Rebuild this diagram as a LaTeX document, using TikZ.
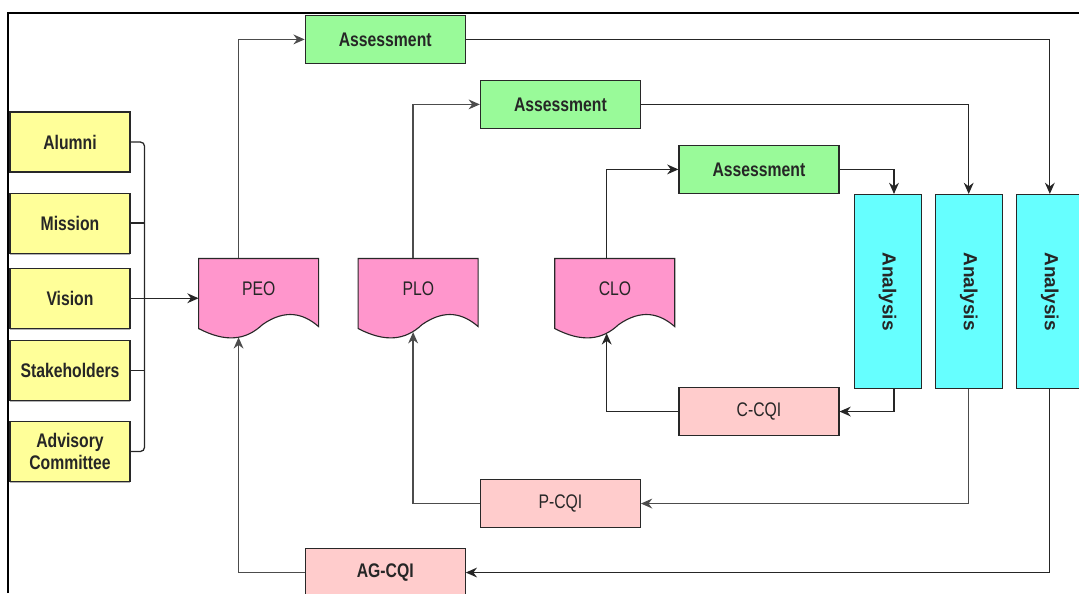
\documentclass[tikz,border=0pt]{standalone}
\usepackage{fontspec}
\setmainfont{Liberation Sans}
\newfontfamily\narrowsf[FakeStretch=0.8]{Liberation Sans}
\usepackage{graphicx}
\usetikzlibrary{arrows.meta,positioning,calc,backgrounds,shadows}
\definecolor{inputyellow}{RGB}{255,255,153}
\definecolor{assessgreen}{RGB}{153,250,153}
\definecolor{docpink}{RGB}{255,150,204}
\definecolor{analysiscyan}{RGB}{102,255,255}
\definecolor{cqipink}{RGB}{255,204,204}
\definecolor{edgegray}{RGB}{40,40,40}
\tikzset{
  basebox/.style={rectangle,draw=edgegray,line width=0.8pt,align=center,text=black!85,
    font=\narrowsf\fontsize{14}{16}\selectfont},
  inputnode/.style={basebox,fill=inputyellow,minimum width=3.0cm,minimum height=1.5cm,
    font=\narrowsf\bfseries\fontsize{14}{16}\selectfont,
    drop shadow={shadow xshift=0pt,shadow yshift=-1pt,opacity=0.6}},
  assessnode/.style={basebox,fill=assessgreen,minimum width=4.0cm,minimum height=1.2cm,
    font=\narrowsf\bfseries\fontsize{14}{16}\selectfont},
  docnode/.style={rectangle,align=center,text=black!85,minimum width=3.0cm,minimum height=1.5cm,
    font=\narrowsf\fontsize{14}{16}\selectfont},
  docshape/.style={fill=docpink,draw=edgegray,line width=0.8pt},
  analysisnode/.style={basebox,fill=analysiscyan,minimum width=1.675cm,minimum height=4.85cm,
    font=\bfseries\fontsize{13.5}{16}\selectfont},
  cqinode/.style={basebox,fill=cqipink,minimum width=4.0cm,minimum height=1.2cm},
  link/.style={line width=0.9pt,color=black!85},
  arr/.style={-{Stealth[length=8pt,width=7pt]},line width=0.9pt,color=black!85},
  grayarr/.style={-{Stealth[length=8pt,width=7pt]},line width=0.9pt,color=black!70}
}

\begin{document}
\begin{tikzpicture}[node distance=0.5cm and 1.2cm]
  \useasboundingbox (0,0) rectangle (26.975,-14.825);
  % frame
  \draw[line width=1.8pt] (0.2,-14.825) |- (26.975,-0.325);

  % inputs
  \node[inputnode] (alumni) at (1.75,-3.55) {Alumni};
  \node[inputnode,below=0.5cm of alumni] (mission) {Mission};
  \node[inputnode,below=0.35cm of mission] (vision) {Vision};
  \node[inputnode,below=0.275cm of vision] (stake) {Stakeholders};
  \node[inputnode,below=0.5cm of stake] (advisory) {Advisory\\Committee};
  \coordinate (brk) at ($(advisory.east)+(0.35,0)$);

  % objectives
  \node[docnode,right=1.7cm of vision,yshift=0.25cm] (peo) {PEO};
  \node[docnode,right=0.975cm of peo] (plo) {PLO};
  \node[docnode,right=1.9cm of plo] (clo) {CLO};
  \foreach \d/\o/\w in {peo/1.0/-0.47,plo/1.375/-0.34,clo/1.3/-0.37}{
    \begin{scope}[on background layer,shift={(\d.south west)}]
      \filldraw[docshape] (0,1.5) -- (3,1.5) -- (3,-0.2)
        .. controls (2.625,0.125) and (2.175,0.25) .. (1.6,-0.15)
        .. controls (1.175,-0.55) and (0.675,-0.6) .. (0,-0.25) -- cycle;
    \end{scope}
    \coordinate (\d-top) at ($(\d.north west)+(\o,0)$);
    \coordinate (\d-bot) at ($(\d.south west)+(\o,\w)$);
  }

  % assessment
  \node[assessnode,above=4.85cm of peo,xshift=3.16cm] (ass1) {Assessment};
  \node[assessnode,above=3.225cm of plo,xshift=3.55cm] (ass2) {Assessment};
  \node[assessnode,above=1.6cm of clo,xshift=3.6cm] (ass3) {Assessment};

  % analysis
  \node[analysisnode,below right=0cm and 0.35cm of ass3] (a1) {\rotatebox{-90}{Analysis}};
  \node[analysisnode,right=0.325cm of a1] (a2) {\rotatebox{-90}{Analysis}};
  \node[analysisnode,right=0.325cm of a2] (a3) {\rotatebox{-90}{Analysis}};

  % improvement
  \node[cqinode,below=4.825cm of ass3] (ccqi) {C-CQI};
  \node[cqinode,below=8.75cm of ass2] (pcqi) {P-CQI};
  \node[cqinode,below=12.1cm of ass1,font=\narrowsf\bfseries\fontsize{14}{16}\selectfont] (agcqi) {AG-CQI};

  % inputs to PEO
  \draw[link,rounded corners=3pt] (alumni.east) -| (brk) -- (advisory.east);
  \draw[link] (mission.east) -- (mission.east -| brk);
  \draw[link] (stake.east) -- (stake.east -| brk);
  \draw[arr] (vision.east) -- (vision.east -| peo.west);

  % forward loops
  \draw[grayarr] (peo-top) |- (ass1.west);
  \draw[grayarr] (plo-top) |- (ass2.west);
  \draw[arr] (clo-top) |- (ass3.west);
  \draw[arr] (ass1.east) -| (a3.north);
  \draw[arr] (ass2.east) -| (a2.north);
  \draw[arr] (ass3.east) -| ([xshift=0.16cm]a1.north);

  % feedback loops
  \draw[arr] ([xshift=0.16cm]a1.south) |- (ccqi.east);
  \draw[grayarr] (a2.south) |- (pcqi.east);
  \draw[arr] (a3.south) |- (agcqi.east);
  \draw[arr] (ccqi.west) -| (clo-bot);
  \draw[grayarr] (pcqi.west) -| (plo-bot);
  \draw[grayarr] (agcqi.west) -| (peo-bot);
\end{tikzpicture}
\end{document}
